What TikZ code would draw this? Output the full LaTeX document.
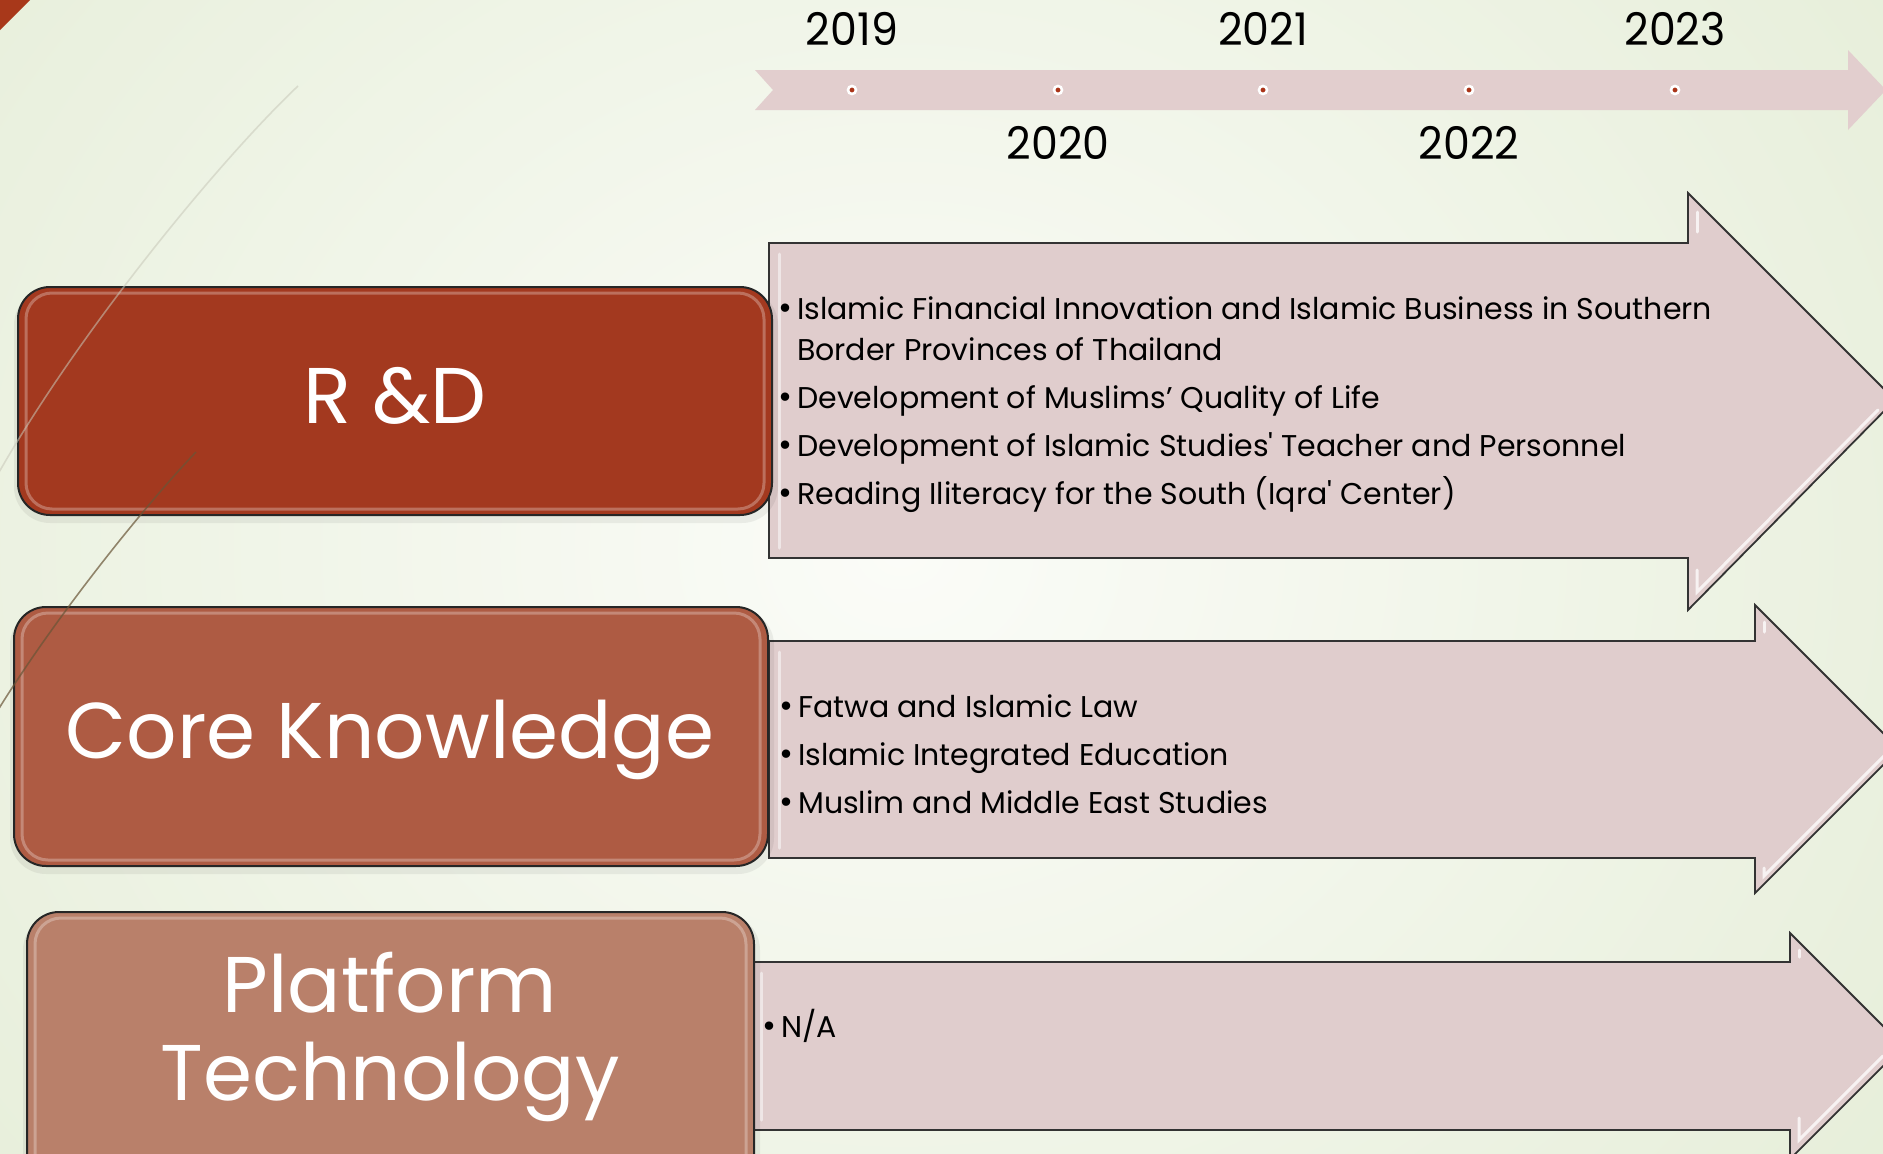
\documentclass[tikz,border=0pt]{standalone}
\usepackage{fontspec}
\setmainfont{Poppins}
\newfontfamily\bodyfont{Poppins}
\newfontfamily\yearfont{Poppins}[FakeStretch=0.95]
\definecolor{bggreen}{RGB}{224,234,208}
\definecolor{bgcenter}{RGB}{251,252,248}
\definecolor{cornerred}{RGB}{168,56,26}
\definecolor{tlpink}{RGB}{226,206,206}
\definecolor{arrowpink}{RGB}{224,205,205}
\definecolor{dotred}{RGB}{170,52,24}
\definecolor{rdred}{RGB}{163,57,31}
\definecolor{corered}{RGB}{174,91,67}
\definecolor{platred}{RGB}{185,128,106}
\definecolor{decolight}{RGB}{200,200,185}
\definecolor{decodark}{RGB}{105,85,55}
\newcommand{\bul}{\llap{{\fontsize{34}{34}\selectfont\raisebox{0pt}{•}}\hspace{5pt}}}
\begin{document}
\begin{tikzpicture}[x=1pt,y=-1pt,
  catbox/.style={draw=black!85, line width=2pt, rounded corners=32pt, inner sep=0pt},
  gloss/.style={draw=white, opacity=.28, line width=3pt, rounded corners=26pt},
  boxshadow/.style={fill=black, opacity=.06, rounded corners=36pt},
  arrowshape/.style={fill=arrowpink, draw=black!80, line width=1.8pt, line join=miter},
  bevel/.style={draw=white, opacity=.75, line width=3pt, line cap=round},
  itemtxt/.style={anchor=base west, inner sep=0pt, font=\bodyfont\fontsize{30}{41}\selectfont, text=black},
  yeartxt/.style={anchor=base, inner sep=0pt, font=\yearfont\fontsize{45}{45}\selectfont, text=black},
  labeltxt/.style={anchor=base, inner sep=0pt, text=white, font=\fontsize{79}{88}\selectfont},
  tldot/.style={circle, fill=dotred, draw=white, line width=2.6pt, inner sep=0pt, minimum size=8pt},
]
\useasboundingbox (0,0) rectangle (1883,1154);
\clip (0,0) rectangle (1883,1154);
% background
\shade[inner color=bgcenter, outer color=bggreen] (-700,-850) rectangle (2500,1950);
\fill[cornerred] (0,0) -- (30,0) -- (0,30) -- cycle;

% timeline
\fill[tlpink] (755,70) -- (1848,70) -- (1848,50) -- (1886,90) -- (1848,130) -- (1848,110) -- (755,110) -- (773,90) -- cycle;
\foreach \x/\n in {852/d19,1058/d20,1263/d21,1469/d22,1675/d23}{
  \node[tldot] (\n) at (\x,90) {};
}
\node[yeartxt] (y19) at (852,45) {2019};
\node[yeartxt] (y21) at (1263,45) {2021};
\node[yeartxt] (y23) at (1675,45) {2023};
\node[yeartxt] (y20) at (1058,159) {2020};
\node[yeartxt] (y22) at (1469,159) {2022};

% content arrows
\path[arrowshape] (769,243) -- (1688,243) -- (1688,193) -- (1895,400) -- (1688,610) -- (1688,558) -- (769,558) -- cycle;
\draw[bevel] (1697,212) -- (1697,232);
\draw[bevel] (1697,570) -- (1697,592) -- (1878,410);
\draw[bevel, opacity=.5] (779,254) -- (779,548);

\path[arrowshape] (769,641) -- (1755,641) -- (1755,605) -- (1899,749) -- (1755,893) -- (1755,858) -- (769,858) -- cycle;
\draw[bevel] (1764,622) -- (1764,632);
\draw[bevel] (1764,868) -- (1764,876) -- (1884,756);
\draw[bevel, opacity=.5] (779,652) -- (779,848);

\path[arrowshape] (751,962) -- (1790,962) -- (1790,933) -- (1903,1046) -- (1790,1159) -- (1790,1130) -- (751,1130) -- cycle;
\draw[bevel] (1799,950) -- (1799,957);
\draw[bevel] (1799,1118) -- (1799,1140) -- (1883,1056);
\draw[bevel, opacity=.5] (761,973) -- (761,1120);

% box shadows
\fill[boxshadow] (14,289) rectangle (778,523);
\fill[boxshadow] (10,609) rectangle (774,874);
\fill[boxshadow] (23,914) rectangle (760,1200);

% category boxes
\node[catbox, fill=rdred, minimum width=754pt, minimum height=228pt] (rd) at (395,401) {};
\draw[gloss] ([shift={(9,7)}]rd.north west) rectangle ([shift={(-9,-7)}]rd.south east);
\node[catbox, fill=corered, minimum width=754pt, minimum height=259pt] (ck) at (391,736.5) {};
\draw[gloss] ([shift={(9,7)}]ck.north west) rectangle ([shift={(-9,-7)}]ck.south east);
\node[catbox, fill=platred, minimum width=727pt, minimum height=283pt] (pt) at (390.5,1053.5) {};
\draw[gloss] ([shift={(9,7)}]pt.north west) rectangle ([shift={(-9,-7)}]pt.south east);

\node[labeltxt] (rdt) at (395,423) {R \&D};
\node[labeltxt] (ckt) at (390,758) {Core Knowledge};
\node[labeltxt] (ptt1) at (390,1012) {Platform};
\node[labeltxt] (ptt2) at (390,1100) {Technology};

% items
\node[itemtxt] (a1) at (797,319) {\bul Islamic Financial Innovation and Islamic Business in Southern};
\node[itemtxt] (a1b) at (797,360) {Border Provinces of Thailand};
\node[itemtxt] (a2) at (797,408) {\bul Development of Muslims’ Quality of Life};
\node[itemtxt] (a3) at (797,456) {\bul Development of Islamic Studies' Teacher and Personnel};
\node[itemtxt] (a4) at (797,504) {\bul Reading Iliteracy for the South (Iqra' Center)};

\node[itemtxt] (b1) at (798,717) {\bul Fatwa and Islamic Law};
\node[itemtxt] (b2) at (798,765) {\bul Islamic Integrated Education};
\node[itemtxt] (b3) at (798,813) {\bul Muslim and Middle East Studies};

\node[itemtxt] (c1) at (781,1037) {\bul N/A};

% decorative lines
\draw[decolight, line width=1.6pt, opacity=.55] (298,86) .. controls (220,160) and (80,330) .. (-2,474);
\draw[decodark, line width=1.6pt, opacity=.7] (196,452) .. controls (150,500) and (60,610) .. (-2,710);
\end{tikzpicture}
\end{document}
